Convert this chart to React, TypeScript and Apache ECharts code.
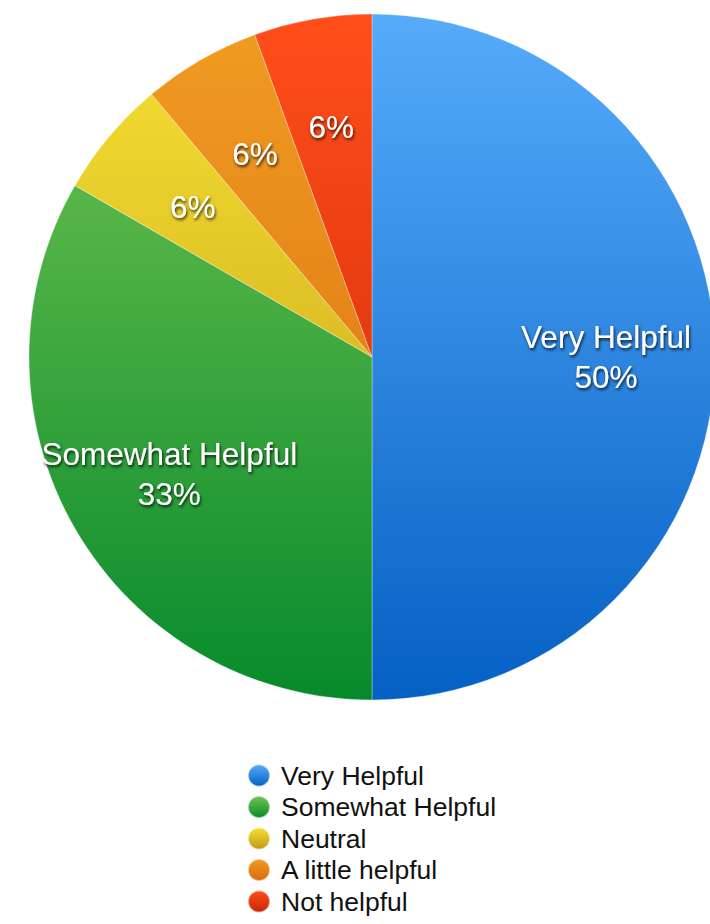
import React, { useEffect, useRef } from "react";
import * as echarts from "echarts";

const categories = ["Very Helpful", "Somewhat Helpful", "Neutral", "A little helpful", "Not helpful"];
const responses = [9, 6, 1, 1, 1];
const topColors = ["#56ABFA", "#74C552", "#F7E132", "#F09C22", "#FF4E1A"];
const bottomColors = ["#0560C4", "#078A2C", "#BF9A18", "#D86A0E", "#C82606"];
const showNameLabel = [true, true, false, false, false];

const CX = 372;
const CY = 357;
const R = 343;

export default function App() {
  const ref = useRef<HTMLDivElement>(null);

  useEffect(() => {
    if (!ref.current) return;
    const chart = echarts.init(ref.current, null, { renderer: "svg" });
    const total = responses.reduce((a, b) => a + b, 0);

    const grad = (i: number, global: boolean) =>
      global
        ? new echarts.graphic.LinearGradient(0, CY - R, 0, CY + R, [
            { offset: 0, color: topColors[i] },
            { offset: 1, color: bottomColors[i] },
          ], true)
        : new echarts.graphic.LinearGradient(0, 0, 0, 1, [
            { offset: 0, color: topColors[i] },
            { offset: 1, color: bottomColors[i] },
          ]);

    const data = categories.map((name, i) => ({
      name,
      value: responses[i],
      itemStyle: { color: grad(i, true) },
    }));

    const k = 230 / (R / 2);

    chart.setOption({
      animation: false,
      backgroundColor: "#ffffff",
      legend: {
        orient: "vertical",
        left: 242,
        top: 757,
        height: 200,
        icon: "circle",
        itemWidth: 22,
        itemHeight: 22,
        itemGap: 4.5,
        textStyle: {
          fontFamily: "Liberation Sans, Arial, sans-serif",
          fontSize: 26.5,
          lineHeight: 22,
          color: "#111111",
          padding: [0, 0, 0, 6],
        },
        data: categories.map((name, i) => ({
          name,
          itemStyle: { color: grad(i, false) },
        })),
      },
      series: [
        {
          type: "pie",
          center: [CX, CY],
          radius: [0, R],
          startAngle: 90,
          clockwise: true,
          data,
          itemStyle: {
            borderColor: "rgba(255,255,255,0.55)",
            borderWidth: 0.6,
          },
          emphasis: { disabled: true },
          label: {
            show: true,
            position: "inside",
            color: "#ffffff",
            fontFamily: "Liberation Sans, Arial, sans-serif",
            fontSize: 31.5,
            lineHeight: 40,
            textShadowColor: "rgba(0,0,0,0.8)",
            textShadowBlur: 3,
            textShadowOffsetX: 1,
            textShadowOffsetY: 2,
            formatter: (p: any) => {
              const pct = Math.round((p.value / total) * 100) + "%";
              return showNameLabel[p.dataIndex] ? p.name + "\n" + pct : pct;
            },
          },
          labelLine: { show: false },
          labelLayout: (params: any) => {
            const r = params.labelRect;
            const lx = r.x + r.width / 2;
            const ly = r.y + r.height / 2;
            return { dx: (lx - CX) * (k - 1), dy: (ly - CY) * (k - 1) };
          },
        },
      ],
    });
    return () => chart.dispose();
  }, []);

  return (
    <div
      ref={ref}
      style={{ position: "fixed", left: 0, top: 0, width: 710, height: 924 }}
    />
  );
}
